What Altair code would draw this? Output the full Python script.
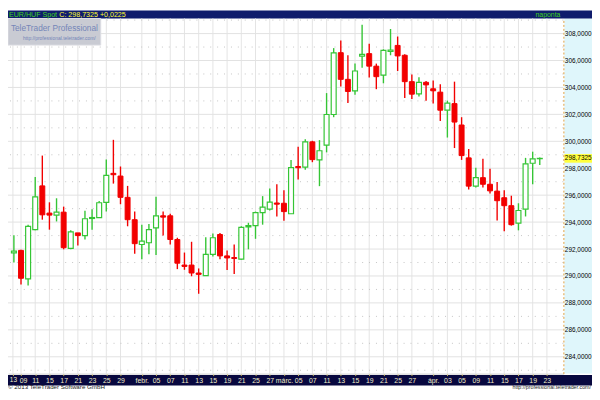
import altair as alt
import pandas as pd

# ---------------- data (EUR/HUF daily candles, 2013-01-08 .. 2013-04-22) ----------------
opens = [291.72, 291.90, 289.78, 293.44, 296.69, 294.67, 294.52, 294.74, 292.05, 293.20,
         293.00, 294.27, 294.34, 295.47, 297.62, 297.42, 295.84, 294.18, 292.34, 292.47,
         293.57, 294.47, 294.47, 292.71, 290.81, 290.81, 290.22, 290.02, 291.61, 293.08,
         291.49, 291.37, 291.25, 293.64, 293.74, 294.71, 294.96, 295.42, 295.40, 294.62,
         298.13, 298.08, 299.96, 298.62, 299.72, 301.99, 306.58, 304.60, 303.75, 306.32,
         306.51, 305.58, 304.92, 306.68, 307.12, 306.39, 304.43, 303.52, 304.38, 303.90,
         303.65, 302.31, 302.80, 301.21, 298.77, 296.67, 297.30, 296.81, 296.30, 295.81,
         295.22, 293.93, 294.96, 298.37, 298.71]
highs = [293.03, 291.95, 293.81, 297.35, 298.94, 295.47, 295.77, 295.15, 293.39, 293.20,
         294.84, 294.96, 295.57, 298.64, 300.11, 298.13, 296.69, 294.78, 293.81, 293.86,
         295.88, 294.78, 294.62, 292.84, 291.74, 292.54, 290.56, 292.88, 293.15, 293.20,
         291.90, 292.34, 293.69, 293.95, 294.78, 295.93, 296.50, 296.81, 296.37, 298.62,
         299.60, 300.16, 300.04, 300.09, 303.58, 306.92, 307.49, 306.39, 305.77, 308.66,
         307.24, 305.77, 306.83, 308.34, 307.78, 306.46, 304.97, 304.75, 304.48, 304.51,
         304.23, 303.02, 304.43, 301.79, 299.43, 298.04, 298.70, 297.96, 296.98, 296.37,
         295.96, 295.40, 298.77, 299.23, 298.80]
lows = [291.00, 289.36, 289.29, 293.39, 294.18, 293.44, 294.05, 291.98, 291.98, 292.27,
        292.71, 293.44, 294.30, 294.78, 296.86, 295.33, 293.69, 291.66, 291.25, 291.61,
        291.56, 293.00, 292.34, 290.51, 290.46, 289.98, 288.68, 290.02, 291.44, 291.25,
        290.44, 290.15, 291.20, 291.98, 292.76, 293.81, 294.86, 294.42, 294.10, 294.62,
        297.16, 297.89, 298.45, 296.67, 299.18, 301.79, 304.07, 302.84, 303.46, 305.46,
        304.73, 303.87, 304.31, 306.39, 305.22, 303.21, 303.14, 303.33, 303.02, 302.80,
        301.50, 300.28, 299.50, 298.62, 296.42, 296.57, 296.57, 296.13, 294.12, 293.32,
        293.74, 293.39, 294.42, 296.81, 298.25]
closes = [291.85, 289.83, 293.69, 295.88, 294.54, 294.52, 294.74, 292.10, 293.27, 293.00,
          294.25, 294.34, 295.44, 297.47, 297.52, 295.84, 294.18, 292.40, 292.59, 293.44,
          294.47, 294.37, 292.71, 290.95, 290.71, 290.22, 290.12, 291.61, 292.84, 291.49,
          291.34, 291.30, 293.61, 293.74, 294.71, 295.11, 295.49, 295.33, 294.78, 298.04,
          298.04, 299.96, 298.64, 299.30, 301.99, 306.56, 304.60, 303.70, 305.22, 306.46,
          305.58, 304.80, 306.75, 306.78, 306.34, 304.43, 303.50, 304.37, 304.19, 303.75,
          302.31, 302.84, 301.43, 298.94, 296.67, 297.30, 296.81, 296.32, 295.59, 295.22,
          293.81, 294.86, 298.33, 298.70, 298.7325]

# x-axis ticks: trading-day index -> label (first one is the year marker "13")
tick_pos = [-0.136, 1, 3, 5, 7, 9, 11, 13, 15,
            18, 20, 22, 24, 26, 28, 30, 32, 34, 36,
            38, 40, 42, 44, 46, 48, 50, 52, 54, 56,
            59, 61, 63, 65, 67, 69, 71, 73, 75]
tick_labels = ["13", "09", "11", "15", "17", "21", "23", "25", "29",
               "febr.", "05", "07", "11", "13", "15", "19", "21", "25", "27",
               "márc.", "05", "07", "11", "13", "15", "19", "21", "25", "27",
               "ápr.", "03", "05", "09", "11", "15", "17", "19", "23"]
y_ticks = [284, 286, 288, 290, 292, 294, 296, 298, 300, 302, 304, 306, 308]
y_minor = [283, 285, 287, 289, 291, 293, 295, 297, 299, 301, 303, 305, 307, 309]

last_price = closes[-1]
last_label = f"{last_price:.4f}".replace(".", ",")

# ---------------- styling ----------------
FONT = "Liberation Sans, Arial, sans-serif"
GREEN = "#35c535"
RED = "#f20000"
W, H = 563, 360

df = pd.DataFrame({"i": list(range(len(opens))), "open": opens, "high": highs,
                   "low": lows, "close": closes})
df["dir"] = ["up" if c >= o else "down" for o, c in zip(opens, closes)]

xs = alt.Scale(domain=[-0.136, 76.63], nice=False, zero=False)
ys = alt.Scale(domain=[282.75, 309.12], nice=False, zero=False)

pos_js = "[" + ",".join(repr(p) for p in tick_pos) + "]"
lab_js = "[" + ",".join("'" + t + "'" for t in tick_labels) + "]"
x_axis = alt.Axis(values=tick_pos, labelExpr=f"{lab_js}[indexof({pos_js}, datum.value)]",
                  grid=False, orient="bottom", tickSize=2, tickColor="#c8b450",
                  domainColor="#cfcfcf", labelColor="#f3efc9", labelFont=FONT,
                  labelFontSize={"condition": {"test": "datum.value < 0", "value": 6.5}, "value": 7},
                  labelOffset={"condition": {"test": "datum.value == 1", "value": 2}, "value": 0},
                  labelPadding=1.2, labelFlush=True, labelOverlap=False,
                  labelBound=False, title=None, zindex=1)
y_axis = alt.Axis(values=y_ticks, orient="right", grid=False, tickSize=0,
                  domainColor="#e0a040", domainDash=[2, 2], labelPadding=1,
                  labelFont=FONT, labelFontSize=6.5, labelColor="#000000",
                  labelExpr="replace(format(datum.value, '.4f'), '.', ',')",
                  labelAlign="left", labelBaseline="middle", title=None, zindex=1)

one = alt.Data(values=[{"a": 0}])

panel = alt.Chart(one).mark_rect(color="#dff6fb").encode(
    x=alt.value(564), x2=alt.value(592), y=alt.value(0), y2=alt.value(360))
band = alt.Chart(one).mark_rect(color="#08083f").encode(
    x=alt.value(0), x2=alt.value(592), y=alt.value(361.5), y2=alt.value(372))
header = alt.Chart(one).mark_rect(color="#0f1c6c").encode(
    x=alt.value(0), x2=alt.value(592), y=alt.value(-8), y2=alt.value(0))

vgrid = alt.Chart(pd.DataFrame({"t": tick_pos})).mark_rule(color="#e4e4e4", strokeWidth=1).encode(
    x=alt.X("t:Q", scale=xs, axis=x_axis))
hgrid = alt.Chart(pd.DataFrame({"v": y_ticks})).mark_rule(color="#e2e2e2", strokeWidth=1).encode(
    y=alt.Y("v:Q", scale=ys, axis=y_axis))
hdots = alt.Chart(pd.DataFrame({"v": y_minor})).mark_rule(
    color="#c4c4c4", strokeWidth=1, strokeDash=[1, 6]).encode(y=alt.Y("v:Q", scale=ys, axis=y_axis))

wm_box = alt.Chart(one).mark_rect(color="#c9cbd3", stroke="#dcdde3", strokeWidth=1).encode(
    x=alt.value(0), x2=alt.value(94), y=alt.value(0), y2=alt.value(27))
wm_title = alt.Chart(one).mark_text(font=FONT, fontSize=8.4, color="#7586b8",
                                    align="center", baseline="middle").encode(
    x=alt.value(47), y=alt.value(10), text=alt.value("TeleTrader Professional"))
wm_url = alt.Chart(one).mark_text(font=FONT, fontSize=5, color="#7586b8",
                                  align="center", baseline="middle").encode(
    x=alt.value(52), y=alt.value(19.5), text=alt.value("http://professional.teletrader.com/"))

wicks = alt.Chart(df).mark_rule(strokeWidth=1.4).encode(
    x=alt.X("i:Q", scale=xs, axis=x_axis),
    y=alt.Y("low:Q", scale=ys, axis=y_axis),
    y2="high:Q",
    color=alt.Color("dir:N", scale=alt.Scale(domain=["up", "down"], range=[GREEN, RED]), legend=None))
up_bodies = alt.Chart(df).transform_filter("datum.close >= datum.open").mark_bar(
    size=5, fill="white", stroke=GREEN, strokeWidth=1.2).encode(
    x=alt.X("i:Q", scale=xs, axis=x_axis), y=alt.Y("open:Q", scale=ys, axis=y_axis), y2="close:Q")
down_bodies = alt.Chart(df).transform_filter("datum.close < datum.open").mark_bar(
    size=5, fill=RED, stroke=RED, strokeWidth=1).encode(
    x=alt.X("i:Q", scale=xs, axis=x_axis), y=alt.Y("open:Q", scale=ys, axis=y_axis), y2="close:Q")

tag_df = pd.DataFrame({"p": [last_price], "lab": [last_label]})
tag_rect = alt.Chart(tag_df).transform_calculate(
    top="datum.p + 0.32", bot="datum.p - 0.32").mark_rect(color="#ffff3c").encode(
    x=alt.value(564), x2=alt.value(592),
    y=alt.Y("top:Q", scale=ys, axis=y_axis), y2="bot:Q")
tag_text = alt.Chart(tag_df).mark_text(font=FONT, fontSize=6.5, color="#000000",
                                       align="left", baseline="middle").encode(
    x=alt.value(564.5), y=alt.Y("p:Q", scale=ys, axis=y_axis), text="lab:N")

h_sym = alt.Chart(one).mark_text(font=FONT, fontSize=7.2, color="#3fd41a",
                                 align="left", baseline="middle").encode(
    x=alt.value(1), y=alt.value(-4), text=alt.value("EUR/HUF Spot"))
h_price = alt.Chart(one).mark_text(font=FONT, fontSize=7.2, color="#ffff30",
                                   align="left", baseline="middle").encode(
    x=alt.value(52), y=alt.value(-4), text=alt.value("C: 298,7325 +0,0225"))
h_freq = alt.Chart(one).mark_text(font=FONT, fontSize=7, color="#3fd41a",
                                  align="right", baseline="middle").encode(
    x=alt.value(560), y=alt.value(-4), text=alt.value("naponta"))

copy_txt = alt.Chart(one).mark_text(font=FONT, fontSize=6.3, color="#222222",
                                    align="left", baseline="alphabetic").encode(
    x=alt.value(0), y=alt.value(376), text=alt.value("© 2013 TeleTrader Software GmbH"))
url_txt = alt.Chart(one).mark_text(font=FONT, fontSize=5.4, color="#222222",
                                   align="right", baseline="alphabetic").encode(
    x=alt.value(591), y=alt.value(376), text=alt.value("http://professional.teletrader.com/"))

chart = alt.layer(
    panel, band, header, vgrid, hgrid, hdots, wm_box, wm_title, wm_url,
    wicks, up_bodies, down_bodies, tag_rect, tag_text,
    h_sym, h_price, h_freq, copy_txt, url_txt
).properties(
    width=W, height=H, autosize="none",
    padding={"left": 0, "top": 8, "right": 29, "bottom": 16},
    background="white"
).configure_view(stroke=None)

chart.save("out.html", embed_options={"renderer": "svg", "actions": False})
